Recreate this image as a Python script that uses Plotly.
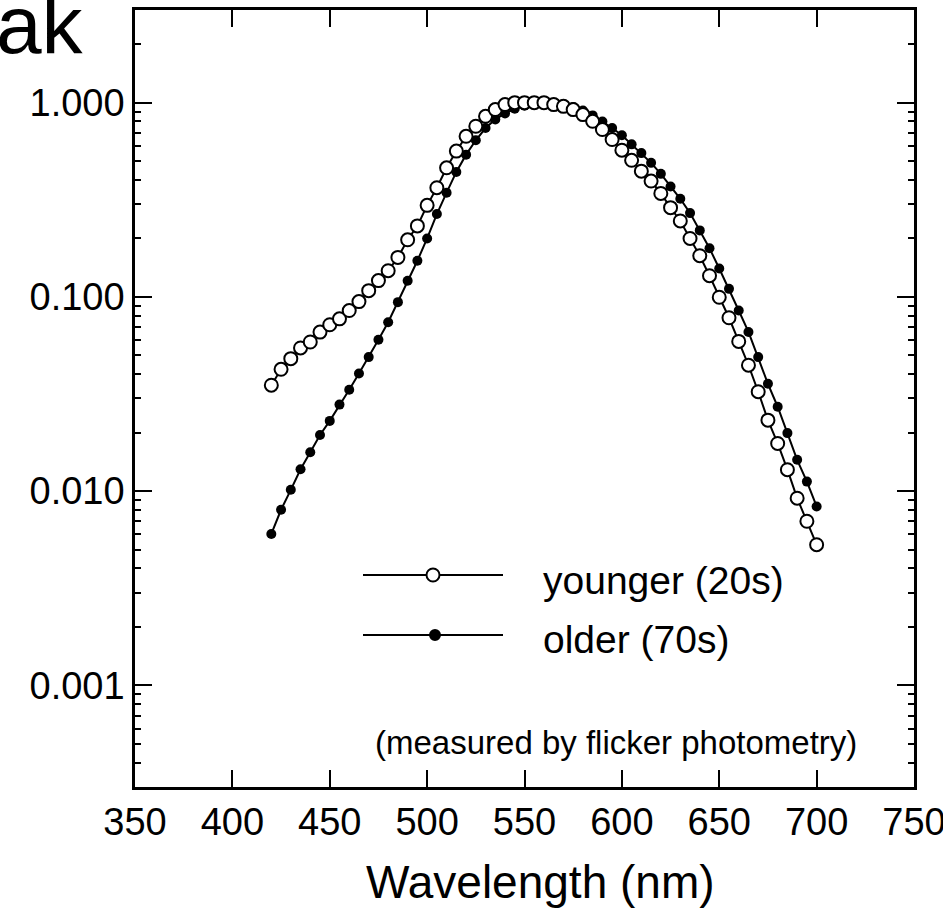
import plotly.graph_objects as go

wavelength = list(range(420, 701, 5))

younger = [0.0351, 0.0424, 0.0481, 0.0546, 0.0586, 0.0659, 0.0719, 0.0771, 0.0851, 0.0946,
           0.1077, 0.1213, 0.1364, 0.1597, 0.1968, 0.232, 0.296, 0.365, 0.462, 0.563,
           0.671, 0.756, 0.851, 0.921, 0.977, 1.0, 1.0, 1.0, 1.0, 0.977,
           0.957, 0.921, 0.868, 0.802, 0.727, 0.646, 0.569, 0.505, 0.444, 0.395,
           0.341, 0.288, 0.246, 0.200, 0.163, 0.1286, 0.0996, 0.0781, 0.059, 0.0445,
           0.0325, 0.0232, 0.0176, 0.0129, 0.0092, 0.0070, 0.0053]

older = [0.00602, 0.00802, 0.01016, 0.01297, 0.01585, 0.01945, 0.0230, 0.0279, 0.0333, 0.0403,
         0.0490, 0.0602, 0.0741, 0.0940, 0.121, 0.1535, 0.200, 0.267, 0.344, 0.44,
         0.54, 0.64, 0.74, 0.82, 0.88, 0.93, 0.965, 0.985, 1.0, 1.0,
         0.98, 0.95, 0.91, 0.86, 0.80, 0.74, 0.68, 0.61, 0.55, 0.49,
         0.43, 0.37, 0.32, 0.27, 0.22, 0.178, 0.14, 0.11, 0.0851, 0.066,
         0.049, 0.0357, 0.0272, 0.0199, 0.0145, 0.0112, 0.00834]

y_tickvals = [0.001, 0.01, 0.1, 1.0]
y_ticktext = ["0.001", "0.010", "0.100", "1.000"]
x_tickvals = [350, 400, 450, 500, 550, 600, 650, 700, 750]
legend_labels = ["younger (20s)", "older (70s)"]
x_title = "Wavelength (nm)"
note_text = "(measured by flicker photometry)"
corner_text = "ak"

minor_vals = [m * 10.0 ** e for e in range(-4, 1) for m in range(2, 10)]

FONT = "Liberation Sans, Arial, Helvetica, sans-serif"

fig = go.Figure()
fig.add_trace(go.Scatter(
    x=wavelength, y=older, mode="lines+markers", name=legend_labels[1],
    line=dict(color="black", width=2),
    marker=dict(symbol="circle", size=10, color="black"),
    showlegend=False))
fig.add_trace(go.Scatter(
    x=wavelength, y=younger, mode="lines+markers", name=legend_labels[0],
    line=dict(color="black", width=2),
    marker=dict(symbol="circle", size=13, color="white", line=dict(color="black", width=2)),
    showlegend=False))

W, H = 943, 912
L, R, T, B = 135, 29, 10, 125
pw, ph = W - L - R, H - T - B


def px(x):
    return (x - L) / pw


def py(y):
    return (H - B - y) / ph


shapes = []
# manual legend
for ly, filled, rad in [(575, False, 6.5), (635, True, 5)]:
    shapes.append(dict(type="line", xref="paper", yref="paper",
                       x0=px(363), x1=px(503), y0=py(ly), y1=py(ly),
                       line=dict(color="black", width=2)))
    cx = 433 if not filled else 435
    shapes.append(dict(type="circle", xref="paper", yref="paper",
                       x0=px(cx - rad), x1=px(cx + rad), y0=py(ly + rad), y1=py(ly - rad),
                       fillcolor="black" if filled else "white",
                       line=dict(color="black", width=2)))

annotations = [
    dict(text=legend_labels[0], xref="paper", yref="paper", x=px(541), y=py(580),
         xanchor="left", yanchor="middle", showarrow=False,
         font=dict(family=FONT, size=39, color="black")),
    dict(text=legend_labels[1], xref="paper", yref="paper", x=px(541), y=py(639),
         xanchor="left", yanchor="middle", showarrow=False,
         font=dict(family=FONT, size=39, color="black")),
    dict(text=note_text, xref="paper", yref="paper", x=px(616), y=py(742),
         xanchor="center", yanchor="middle", showarrow=False,
         font=dict(family=FONT, size=33, color="black")),
    dict(text=x_title, xref="paper", yref="paper", x=px(540), y=py(882),
         xanchor="center", yanchor="middle", showarrow=False,
         font=dict(family=FONT, size=46, color="black")),
    dict(text=corner_text, xref="paper", yref="paper", x=px(-6), y=py(24),
         xanchor="left", yanchor="middle", showarrow=False,
         font=dict(family=FONT, size=82, color="black")),
]

fig.update_layout(
    width=W, height=H,
    margin=dict(l=L, r=R, t=T, b=B, pad=0),
    paper_bgcolor="white", plot_bgcolor="white",
    template="none",
    shapes=shapes, annotations=annotations,
    font=dict(family=FONT, color="black"),
)
fig.update_xaxes(
    range=[350, 750], tickmode="array", tickvals=x_tickvals,
    ticks="inside", ticklen=17, tickwidth=2, tickcolor="black",
    showline=True, linewidth=2.5, linecolor="black", mirror="ticks",
    showgrid=False, zeroline=False, automargin=False,
    ticklabeloverflow="allow",
    tickfont=dict(family=FONT, size=38, color="black"),
)
fig.update_yaxes(
    type="log", range=[-3.523, 0.477], tickmode="array",
    tickvals=y_tickvals, ticktext=y_ticktext,
    ticks="inside", ticklen=17, tickwidth=2, tickcolor="black",
    showline=True, linewidth=2.5, linecolor="black", mirror="ticks",
    showgrid=False, zeroline=False, automargin=False,
    ticklabeloverflow="allow",
    tickfont=dict(family=FONT, size=38, color="black"),
    minor=dict(tickmode="array", tickvals=minor_vals, ticks="inside", ticklen=6,
               tickwidth=2, tickcolor="black", showgrid=False),
)

fig.write_html("out.html")
